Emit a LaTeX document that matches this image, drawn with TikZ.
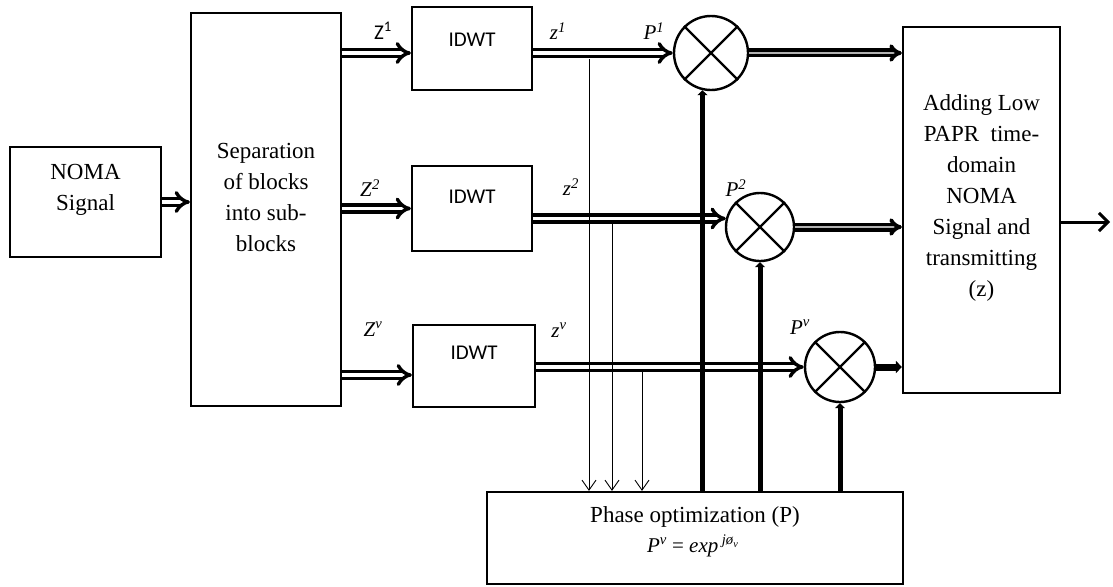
\documentclass[tikz,border=0pt]{standalone}
\usepackage{fontspec}
\setmainfont{Liberation Serif}
\newfontfamily\carl{Carlito}
\usetikzlibrary{arrows.meta,calc}
\newcommand\lsup[2]{\textit{#1}\textsuperscript{\textit{#2}}}
\begin{document}
\begin{tikzpicture}[x=1pt,y=-1pt,
 box/.style={draw,line width=2.2pt,rectangle,inner sep=0pt},
 txt/.style={font=\fontsize{23}{31}\selectfont,align=center,inner sep=0pt},
 idwt/.style={font=\carl\fontsize{21}{24}\selectfont,inner sep=0pt},
 lab/.style={font=\fontsize{21}{24}\selectfont,inner sep=0pt},
 mult/.style={draw,circle,line width=2.4pt,inner sep=0pt},
 dbl/.style={double,double distance=3.6pt,line width=3.4pt,-{Implies[scale=1.3]}},
 dblout/.style={double=gray!60,double distance=1.4pt,line width=3.8pt,-{Implies}},
 thinarr/.style={line width=0.9pt,-{Straight Barb[length=10pt,width=14pt]}},
 thickarr/.style={line width=5pt,-{Triangle[length=5pt,width=10pt]}},
]
\useasboundingbox (0,0) rectangle (1113,586);
\fill[white] (0,0) rectangle (1113,586);

% blocks
\node[box,minimum width=151pt,minimum height=110pt] (noma) at (85.5,202) {};
\node[txt] (nomatxt) at (85.5,190) {NOMA\\Signal};
\node[box,minimum width=150pt,minimum height=393pt] (sep) at (266,209.5) {};
\node[txt] (septxt) at (266,197) {Separation\\of blocks\\into sub-\\blocks};
\node[box,minimum width=120pt,minimum height=83pt] (idwt1) at (472,48.5) {};
\node[idwt] (idwt1t) at (472,40) {IDWT};
\node[box,minimum width=120pt,minimum height=85pt] (idwt2) at (472,208.5) {};
\node[idwt] (idwt2t) at (472,197) {IDWT};
\node[box,minimum width=122pt,minimum height=82pt] (idwt3) at (474,366) {};
\node[idwt] (idwt3t) at (474,353) {IDWT};
\node[box,minimum width=157pt,minimum height=366pt] (add) at (981.5,210) {};
\node[txt] (addtxt) at (981.5,198) {Adding Low\\PAPR\ \ time-\\domain\\NOMA\\Signal and\\transmitting\\(z)};
\node[box,minimum width=416pt,minimum height=92pt] (phase) at (695,538) {};
\node[txt] (phasetxt) at (695,517) {Phase optimization (P)};
\node[lab,font=\fontsize{21}{24}\selectfont] (formula) at (693,546) {\textit{P}\textsuperscript{\textit{v}} = \textit{exp}\,\textsuperscript{\textit{jø}\textsubscript{\textit{v}}}};

% multipliers
\node[mult,minimum size=74pt] (c1) at (711,53) {};
\node[mult,minimum size=68pt] (c2) at (760,227) {};
\node[mult,minimum size=70pt] (c3) at (840,367) {};
\foreach \c in {c1,c2,c3}{
  \draw[line width=2.2pt] (\c.north west) -- (\c.south east) (\c.north east) -- (\c.south west);
}

% labels
\node[lab] (Z1) at (383,31) {{\carl Z}\textsuperscript{\carl 1}};
\node[lab] (z1) at (558,31) {\lsup{z}{1}};
\node[lab] (P1) at (654,31) {\lsup{P}{1}};
\node[lab] (Z2) at (370,188) {\lsup{Z}{2}};
\node[lab] (z2) at (571,187) {\lsup{z}{2}};
\node[lab] (P2) at (736,188) {\lsup{P}{2}};
\node[lab] (Zv) at (373,329) {\lsup{Z}{v}};
\node[lab] (zv) at (559,330) {\lsup{z}{v}};
\node[lab] (Pv) at (800,327) {\lsup{P}{v}};

% double arrows
\draw[dbl] (noma.east) -- (noma.east -| sep.west);
\draw[dbl] (sep.east |- c1) -- (idwt1.west |- c1);
\draw[dbl] (sep.east |- idwt2.west) -- (idwt2.west);
\draw[dbl] ($(sep.east |- idwt3.west)+(0,9)$) -- ($(idwt3.west)+(0,9)$);
\draw[dbl] (idwt1.east |- c1) -- (c1.west);
\draw[dbl] (idwt2.east |- c2.166) -- (c2.166);
\draw[dbl] (idwt3.east |- c3) -- (c3.west);
\draw[dblout] (c1.east) -- (c1.east -| add.west);
\draw[dblout] (c2.east) -- (c2.east -| add.west);
\draw[line width=7pt,-{Triangle[length=6pt,width=12pt]}] (c3.east) -- (c3.east -| add.west);

% thin taps to phase optimization
\coordinate (t1) at (589,59);
\coordinate (t2) at (612,224);
\coordinate (t3) at (642,372);
\draw[thinarr] (t1) -- (t1 |- phase.north);
\draw[thinarr] (t2) -- (t2 |- phase.north);
\draw[thinarr] (t3) -- (t3 |- phase.north);

% thick phase feeds
\draw[thickarr] (c1.257 |- phase.north) -- (c1.257);
\draw[thickarr] (c2.south |- phase.north) -- (c2.south);
\draw[thickarr] (c3.south |- phase.north) -- (c3.south);

% output
\coordinate (out) at (1110,222);
\draw[line width=3pt,-{Straight Barb[length=9pt,width=18pt]}] (add.east |- out) -- (out);
\end{tikzpicture}
\end{document}
